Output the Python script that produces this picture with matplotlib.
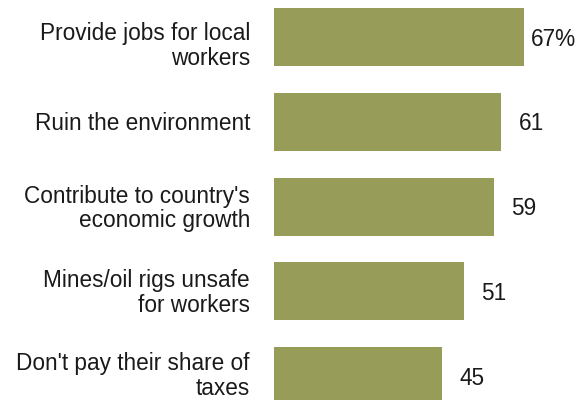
import matplotlib
matplotlib.use("Agg")
import matplotlib.pyplot as plt
from matplotlib.transforms import offset_copy

categories = [
    "Provide jobs for local\nworkers",
    "Ruin the environment",
    "Contribute to country's\neconomic growth",
    "Mines/oil rigs unsafe\nfor workers",
    "Don't pay their share of\ntaxes",
]
values = [67, 61, 59, 51, 45]
value_labels = ["67%", "61", "59", "51", "45"]

BAR = "#979c58"
TXT = "#1a1a1a"
FS = 16.3
plt.rcParams["font.family"] = ["Liberation Sans", "DejaVu Sans"]

fig = plt.figure(figsize=(5.88, 4.0), dpi=100)
ax = fig.add_axes([274 / 588, 0, 298 / 588, 1])

ypos = list(range(len(values)))
ax.barh(ypos, values, height=0.685, color=BAR, edgecolor="none")
ax.set_xlim(0, 80)
ax.set_ylim(4.283, -0.437)
ax.set_xticks([])
ax.set_yticks([])
for sp in ax.spines.values():
    sp.set_visible(False)

# category labels to the left of the bars; the top one sits a little lower,
# the bottom one is kept clear of the lower edge
last = len(categories) - 1
for y, lab in zip(ypos, categories):
    dy = -9 if y == 0 else (0 if y == last else -2)
    tr = offset_copy(ax.transData, fig=fig, x=-24, y=dy, units="dots")
    ax.text(0, y, lab, transform=tr, ha="right", va="center", fontsize=FS,
            linespacing=1.09, color=TXT, multialignment="right")

# value labels centred a fixed distance past the end of each bar
tr = offset_copy(ax.transData, fig=fig, x=30, y=-2, units="dots")
for y, v, lab in zip(ypos, values, value_labels):
    ax.text(v, y, lab, transform=tr, ha="center", va="center", fontsize=FS, color=TXT)

fig.savefig("out.png", dpi=100)
